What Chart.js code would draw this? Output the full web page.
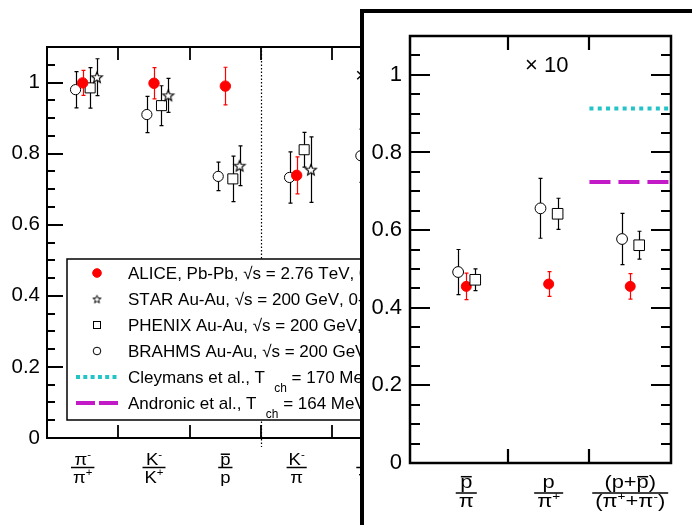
<!DOCTYPE html>
<html><head><meta charset="utf-8">
<script src="https://cdn.jsdelivr.net/npm/chart.js@4.4.0/dist/chart.umd.min.js"></script>
<style>
html,body{margin:0;padding:0;background:#fff;width:692px;height:525px;overflow:hidden;}
#left{position:absolute;left:0;top:0;}
#inset{position:absolute;left:360px;top:9px;width:332px;height:516px;background:#fff;border-left:4px solid #000;border-top:4px solid #000;box-sizing:border-box;overflow:hidden;}
#right{position:absolute;left:0;top:0;}
</style></head><body>
<canvas id="left" width="692" height="525"></canvas>
<div id="inset"><canvas id="right" width="328" height="512"></canvas></div>
<script>
// ---------------- DATA ----------------
// Left panel: ratio categories (fraction labels)
const leftNumerators   = ['π⁻', 'K⁻', 'p\u0304', 'K⁻', 'K⁺'];
const leftDenominators = ['π⁺', 'K⁺', 'p', 'π', 'π⁺'];
const aliceLeft      = [0.999, 0.998, 0.990, 0.739, null];
const aliceLeftErr   = [0.035, 0.044, 0.053, 0.052, null];
const starLeft       = [1.015, 0.964, 0.766, 0.755, null];
const starLeftErr    = [0.052, 0.048, 0.056, 0.092, null];
const phenixLeft     = [0.985, 0.935, 0.729, 0.811, null];
const phenixLeftErr  = [0.057, 0.056, 0.064, 0.049, null];
const brahmsLeft     = [0.980, 0.910, 0.736, 0.733, 0.794];
const brahmsLeftErr  = [0.051, 0.051, 0.040, 0.072, 0.075];

// Right panel (inset)
const rightNumerators   = ['p\u0304', 'p', '(p+p\u0304)'];
const rightDenominators = ['π', 'π⁺', '(π⁺+π⁻)'];
const aliceRight     = [0.455, 0.461, 0.455];
const aliceRightErr  = [0.034, 0.032, 0.033];
const phenixRight    = [0.472, 0.642, 0.561];
const phenixRightErr = [0.028, 0.040, 0.036];
const brahmsRight    = [0.492, 0.656, 0.577];
const brahmsRightErr = [0.058, 0.077, 0.066];
const cleymansRight  = [null, null, 0.913];
const andronicRight  = [null, null, 0.724];

const yTickValues = [0, 0.2, 0.4, 0.6, 0.8, 1];
const scaleLabel = '× 10';

const seriesLabels = [
  'ALICE, Pb-Pb, √s = 2.76 TeV, 0-5%',
  'STAR Au-Au, √s = 200 GeV, 0-5%',
  'PHENIX Au-Au, √s = 200 GeV, 0-5%',
  'BRAHMS Au-Au, √s = 200 GeV, 0-10%',
  'Cleymans et al., T_{ch} = 170 MeV',
  'Andronic et al., T_{ch} = 164 MeV'
];

// ---------------- HELPERS ----------------
const FONT = "'Liberation Sans', Arial, Helvetica, sans-serif";
Chart.defaults.font.family = FONT;
Chart.defaults.color = '#000';
const RED = '#ff0000', CYAN = '#22c4c8', MAGENTA = '#c21ac6';

function makeStar(outer, inner, lw) {
  const size = Math.ceil(outer * 2 + lw * 2 + 2);
  const c = document.createElement('canvas');
  c.width = size; c.height = size;
  const g = c.getContext('2d');
  const cx = size / 2, cy = size / 2 + 0.5;
  g.beginPath();
  for (let i = 0; i < 10; i++) {
    const r = i % 2 === 0 ? outer : inner;
    const a = -Math.PI / 2 + i * Math.PI / 5;
    const px = cx + r * Math.cos(a), py = cy + r * Math.sin(a);
    if (i === 0) g.moveTo(px, py); else g.lineTo(px, py);
  }
  g.closePath();
  g.fillStyle = '#fff'; g.fill();
  g.strokeStyle = '#000'; g.lineWidth = lw; g.stroke();
  return c;
}
const starImg = makeStar(5.8, 2.5, 1.1);
const starLegendImg = makeStar(4.2, 1.8, 1);

function tokenize(str) {
  const out = [];
  for (let i = 0; i < str.length; i++) {
    const ch = str[i];
    if (ch === '\u0304') { if (out.length) out[out.length - 1].bar = true; continue; }
    if (ch === '⁺') { out.push({ t: '+', kind: 'sup' }); continue; }
    if (ch === '⁻') { out.push({ t: '-', kind: 'sup' }); continue; }
    if (ch === '_' && str[i + 1] === '{') {
      const j = str.indexOf('}', i);
      out.push({ t: str.slice(i + 2, j), kind: 'sub' }); i = j; continue;
    }
    out.push({ t: ch, kind: 'n' });
  }
  return out;
}
function layoutRich(ctx, str, size) {
  const toks = tokenize(str);
  let x = 0;
  toks.forEach(tk => {
    let fs = size, dy = 0, pre = 0;
    if (tk.kind === 'sup') { fs = size * 0.62; dy = -size * 0.4; }
    if (tk.kind === 'sub') { fs = size * 0.7; dy = size * 0.52; pre = size * 0.55; }
    ctx.font = fs + 'px ' + FONT;
    const w = ctx.measureText(tk.t).width;
    tk.x = x + pre; tk.w = w; tk.fs = fs; tk.dy = dy;
    x = tk.x + w;
  });
  return { toks, width: x };
}
// draws text with sup/sub/overline; hs = horizontal stretch
function drawRich(ctx, str, x, baseline, size, align, hs) {
  hs = hs || 1;
  const L = layoutRich(ctx, str, size);
  const x0 = align === 'center' ? -L.width / 2 : 0;
  ctx.save();
  ctx.translate(x, baseline); ctx.scale(hs, 1);
  ctx.textAlign = 'left'; ctx.textBaseline = 'alphabetic';
  L.toks.forEach(tk => {
    ctx.font = tk.fs + 'px ' + FONT;
    ctx.fillText(tk.t, x0 + tk.x, tk.dy);
    if (tk.bar) {
      const by = -size * 0.52 - 2.2;
      ctx.lineWidth = 1.5; ctx.strokeStyle = ctx.fillStyle;
      ctx.beginPath(); ctx.moveTo(x0 + tk.x + 0.5, by); ctx.lineTo(x0 + tk.x + tk.w - 0.5, by); ctx.stroke();
    }
  });
  ctx.restore();
  return L.width * hs;
}

function points(centers, values, errs, off) {
  const out = [];
  values.forEach((v, i) => { if (v != null) out.push({ x: centers[i] + off, y: v, e: errs[i] }); });
  return out;
}
function modelLine(edges, values) {
  const out = [];
  values.forEach((v, i) => { if (v != null) { out.push({ x: edges[i], y: v }); out.push({ x: edges[i + 1], y: v }); } });
  return out;
}

// ---------------- PLUGINS ----------------
const errorBars = {
  id: 'errorBars',
  beforeDatasetsDraw(chart) {
    const ctx = chart.ctx, ys = chart.scales.y;
    chart.data.datasets.forEach((ds, di) => {
      if (!ds.errorColor) return;
      const meta = chart.getDatasetMeta(di);
      ctx.save();
      ctx.strokeStyle = ds.errorColor; ctx.lineWidth = 1.2;
      ds.data.forEach((d, i) => {
        if (d.e == null) return;
        const x = Math.round(meta.data[i].x) + 0.5;
        const t = ys.getPixelForValue(d.y + d.e), b = ys.getPixelForValue(d.y - d.e);
        ctx.beginPath();
        ctx.moveTo(x, t); ctx.lineTo(x, b);
        ctx.moveTo(x - 2, t); ctx.lineTo(x + 2, t);
        ctx.moveTo(x - 2, b); ctx.lineTo(x + 2, b);
        ctx.stroke();
      });
      ctx.restore();
    });
  }
};

const divider = {
  id: 'divider',
  beforeDatasetsDraw(chart, args, o) {
    if (o.at == null) return;
    const ctx = chart.ctx, a = chart.chartArea;
    const x = Math.round(chart.scales.x.getPixelForValue(o.at)) + 0.5;
    ctx.save(); ctx.strokeStyle = '#000'; ctx.lineWidth = 1.2; ctx.setLineDash([1.5, 2]);
    ctx.beginPath(); ctx.moveTo(x, a.top); ctx.lineTo(x, a.bottom + 9); ctx.stroke(); ctx.restore();
  }
};

const frameTicks = {
  id: 'frameTicks',
  afterDraw(chart, args, o) {
    const ctx = chart.ctx, a = chart.chartArea, xs = chart.scales.x, ys = chart.scales.y;
    ctx.save();
    ctx.strokeStyle = '#000';
    ctx.lineWidth = o.lw;
    ctx.strokeRect(a.left, a.top, a.right - a.left, a.bottom - a.top);
    ctx.lineWidth = o.tickW;
    ctx.beginPath();
    for (let k = 0; k * 0.05 <= ys.max + 1e-9; k++) {
      const v = k * 0.05, y = Math.round(ys.getPixelForValue(v));
      const len = (k % 4 === 0) ? o.yMajor : o.yMinor;
      ctx.moveTo(a.left, y); ctx.lineTo(a.left + len, y);
      ctx.moveTo(a.right, y); ctx.lineTo(a.right - len, y);
    }
    o.xTicks.forEach(v => {
      const x = Math.round(xs.getPixelForValue(v));
      ctx.moveTo(x, a.top); ctx.lineTo(x, a.top + o.xLen);
      ctx.moveTo(x, a.bottom); ctx.lineTo(x, a.bottom - o.xLen);
    });
    ctx.stroke();
    ctx.restore();
  }
};

const fractionLabels = {
  id: 'fractionLabels',
  afterDraw(chart, args, o) {
    const ctx = chart.ctx, a = chart.chartArea, xs = chart.scales.x;
    ctx.save(); ctx.fillStyle = '#000'; ctx.strokeStyle = '#000';
    o.centers.forEach((c, i) => {
      const x = xs.getPixelForValue(c);
      const wn = drawRich(ctx, o.num[i], x, a.bottom + o.numBase, o.size, 'center', o.hs);
      const wd = drawRich(ctx, o.den[i], x, a.bottom + o.denBase, o.size, 'center', o.hs);
      const w = Math.max(wn, wd) + o.barPad * 2;
      ctx.lineWidth = 1.5;
      ctx.beginPath(); ctx.moveTo(x - w / 2, a.bottom + o.bar); ctx.lineTo(x + w / 2, a.bottom + o.bar); ctx.stroke();
    });
    ctx.restore();
  }
};

const annotation = {
  id: 'annotation',
  afterDraw(chart, args, o) {
    if (!o.text) return;
    const ctx = chart.ctx;
    const x = chart.scales.x.getPixelForValue(o.x), y = chart.scales.y.getPixelForValue(o.y);
    ctx.save(); ctx.fillStyle = '#000'; ctx.font = o.size + 'px ' + FONT;
    ctx.textAlign = 'left'; ctx.textBaseline = 'middle';
    ctx.fillText(o.text, x, y); ctx.restore();
  }
};

function legendSymbol(ctx, ds, x, y) {
  ctx.save();
  if (ds.type === 'line') {
    ctx.strokeStyle = ds.borderColor; ctx.lineWidth = ds.borderWidth;
    ctx.setLineDash(ds.legendDash || ds.borderDash || []);
    ctx.beginPath(); ctx.moveTo(x - 21, y); ctx.lineTo(x + 21, y); ctx.stroke();
  } else if (ds.pointStyle === 'rect') {
    ctx.fillStyle = '#fff'; ctx.strokeStyle = '#000'; ctx.lineWidth = 1;
    ctx.fillRect(x - 3.5, y - 3.5, 7, 7); ctx.strokeRect(x - 3.5, y - 3.5, 7, 7);
  } else if (ds.pointStyle === 'circle') {
    ctx.fillStyle = ds.pointBackgroundColor; ctx.strokeStyle = ds.pointBorderColor; ctx.lineWidth = 1;
    ctx.beginPath(); ctx.arc(x, y, ds.pointBackgroundColor === RED ? 4.3 : 3.8, 0, Math.PI * 2);
    ctx.fill(); ctx.stroke();
  } else {
    ctx.drawImage(starLegendImg, x - starLegendImg.width / 2, y - starLegendImg.height / 2);
  }
  ctx.restore();
}

const boxLegend = {
  id: 'boxLegend',
  afterDatasetsDraw(chart, args, o) {
    if (!o.show) return;
    const ctx = chart.ctx;
    ctx.save();
    ctx.fillStyle = '#fff'; ctx.fillRect(o.x, o.y, o.w, o.h);
    ctx.strokeStyle = '#000'; ctx.lineWidth = 1.5; ctx.strokeRect(o.x, o.y, o.w, o.h);
    chart.data.datasets.forEach((ds, i) => {
      const cy = o.firstY + i * o.step;
      legendSymbol(ctx, ds, o.symX, cy);
      ctx.fillStyle = '#000';
      drawRich(ctx, ds.label, o.textX, cy + o.size * 0.38, o.size, 'left', 1);
    });
    ctx.restore();
  }
};

Chart.register(errorBars, divider, frameTicks, fractionLabels, annotation, boxLegend);

function scatterSet(label, data, style, fill, radius, errColor, img) {
  return {
    type: 'scatter', label, data,
    pointStyle: img || style, pointRadius: radius, pointHoverRadius: radius,
    pointBackgroundColor: fill, pointBorderColor: fill === RED ? RED : '#000',
    pointBorderWidth: 1, showLine: false, errorColor: errColor
  };
}
function yScale(size, pad, width) {
  return {
    type: 'linear', min: 0, max: 1.1,
    grid: { display: false, drawTicks: false }, border: { display: false },
    ticks: { stepSize: 0.2, includeBounds: false, font: { size, family: FONT }, color: '#000', padding: pad,
      callback: v => yTickValues.some(t => Math.abs(t - v) < 1e-6) ? String(Math.round(v * 10) / 10) : '' },
    afterFit(s) { s.width = width; }
  };
}
function xScale(min, max, height) {
  return {
    type: 'linear', min, max,
    grid: { display: false, drawTicks: false }, border: { display: false },
    ticks: { display: false },
    afterFit(s) { s.height = height; }
  };
}

// ---------------- LEFT CHART ----------------
const leftCenters = [0, 1, 2, 3, 4];
new Chart(document.getElementById('left'), {
  type: 'scatter',
  data: {
    datasets: [
      scatterSet(seriesLabels[0], points(leftCenters, aliceLeft, aliceLeftErr, 0), 'circle', RED, 5.2, RED),
      scatterSet(seriesLabels[1], points(leftCenters, starLeft, starLeftErr, 0.2), 'star', '#fff', 5.8, '#000', starImg),
      scatterSet(seriesLabels[2], points(leftCenters, phenixLeft, phenixLeftErr, 0.105), 'rect', '#fff', 7.1, '#000'),
      scatterSet(seriesLabels[3], points(leftCenters, brahmsLeft, brahmsLeftErr, -0.1), 'circle', '#fff', 5.1, '#000'),
      { type: 'line', label: seriesLabels[4], data: [], borderColor: CYAN, borderWidth: 4, borderDash: [4, 3], legendDash: [4, 3.3], pointRadius: 0 },
      { type: 'line', label: seriesLabels[5], data: [], borderColor: MAGENTA, borderWidth: 4, borderDash: [19, 4], legendDash: [19, 4], pointRadius: 0 }
    ]
  },
  options: {
    responsive: false, animation: false, devicePixelRatio: 1,
    layout: { padding: { top: 47, right: 217, left: 0, bottom: 0 } },
    scales: { x: xScale(-0.5, 5.5, 87), y: yScale(20.5, 7, 47) },
    plugins: {
      legend: { display: false }, tooltip: { enabled: false },
      divider: { at: 2.5 },
      frameTicks: { lw: 2, tickW: 1.8, yMajor: 16, yMinor: 8, xTicks: [0.5, 1.5, 2.5, 3.5, 4.5], xLen: 13 },
      fractionLabels: { centers: leftCenters, num: leftNumerators, den: leftDenominators, size: 16.5, hs: 1.12, numBase: 27, bar: 29.5, denBase: 45, barPad: 2 },
      annotation: { text: scaleLabel, x: 3.82, y: 1.018, size: 21 },
      boxLegend: { show: true, x: 67, y: 259, w: 400, h: 161, symX: 97, textX: 128, firstY: 273, step: 26, size: 17 }
    }
  }
});

// ---------------- RIGHT CHART (inset) ----------------
const rightCenters = [0.69, 1.7, 2.7];
const rightEdges = [0, 1.2, 2.2, 3.2];
new Chart(document.getElementById('right'), {
  type: 'scatter',
  data: {
    datasets: [
      { type: 'line', label: seriesLabels[4], data: modelLine(rightEdges, cleymansRight), borderColor: CYAN, borderWidth: 4, borderDash: [4, 4.3], borderCapStyle: 'butt', pointRadius: 0, fill: false },
      { type: 'line', label: seriesLabels[5], data: modelLine(rightEdges, andronicRight), borderColor: MAGENTA, borderWidth: 4, borderDash: [21, 8], borderCapStyle: 'butt', pointRadius: 0, fill: false },
      scatterSet(seriesLabels[3], points(rightCenters, brahmsRight, brahmsRightErr, -0.1), 'circle', '#fff', 5.4, '#000'),
      scatterSet(seriesLabels[2], points(rightCenters, phenixRight, phenixRightErr, 0.11), 'rect', '#fff', 7.5, '#000'),
      scatterSet(seriesLabels[0], points(rightCenters, aliceRight, aliceRightErr, 0), 'circle', RED, 5, RED)
    ]
  },
  options: {
    responsive: false, animation: false, devicePixelRatio: 1,
    layout: { padding: { top: 23, right: 21, left: 0, bottom: 0 } },
    scales: { x: xScale(0, 3.2, 62), y: yScale(22, 8, 46) },
    plugins: {
      legend: { display: false }, tooltip: { enabled: false },
      divider: { at: null },
      frameTicks: { lw: 2.5, tickW: 2.2, yMajor: 20, yMinor: 10, xTicks: [1.2, 2.2], xLen: 14 },
      fractionLabels: { centers: rightCenters, num: rightNumerators, den: rightDenominators, size: 17.5, hs: 1.25, numBase: 25, bar: 30, denBase: 44, barPad: 3 },
      annotation: { text: scaleLabel, x: 1.41, y: 1.022, size: 22 },
      boxLegend: { show: false }
    }
  }
});
</script>
</body></html>
